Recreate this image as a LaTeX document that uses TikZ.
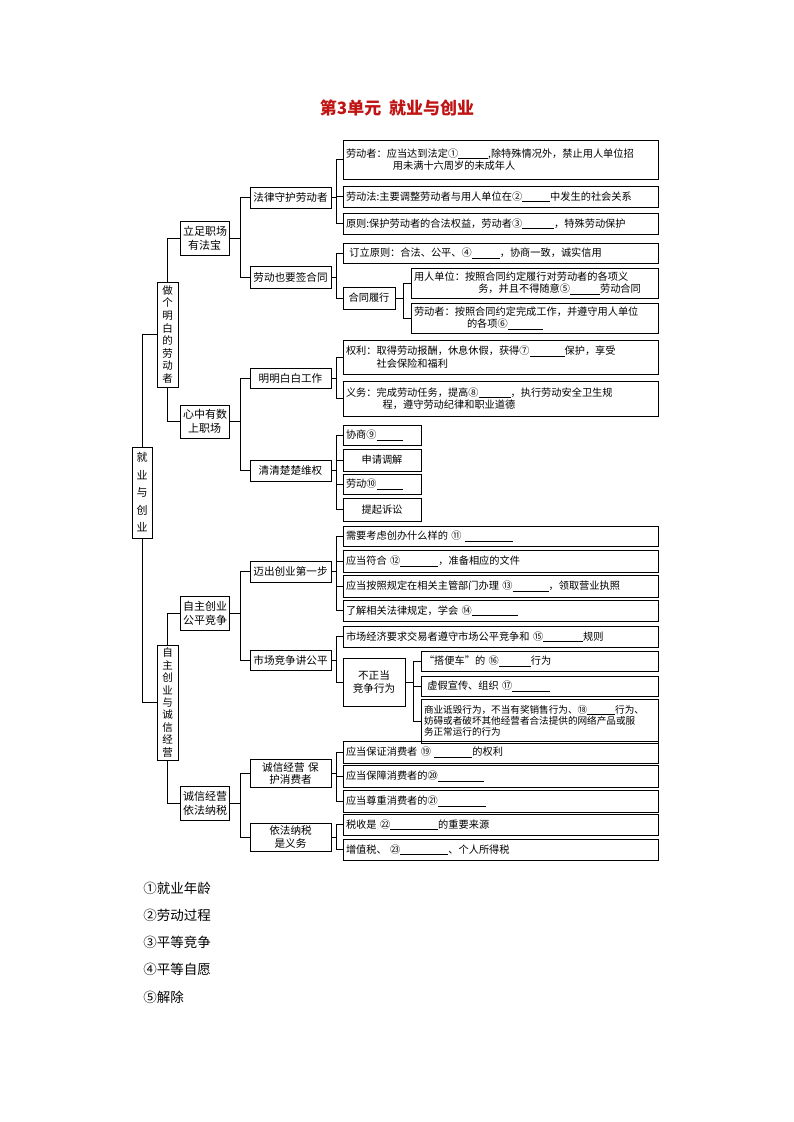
\documentclass[tikz,border=0pt]{standalone}
\usepackage{fontspec}
\setmainfont{Noto Sans CJK SC}
\newfontfamily\cjk{Noto Sans CJK SC}
\definecolor{titlered}{RGB}{192,20,20}
\newcommand\blk[1]{\rule[-1.5pt]{#1}{0.5pt}}
\newcommand\bx[7][]{%
  \pgfmathsetmacro\bw{#5-#3}\pgfmathsetmacro\bh{#6-#4}\pgfmathsetmacro\tw{#5-#3-6}%
  \node[box,minimum width=\bw pt,minimum height=\bh pt,text width=\tw pt,#1] (#2) at ({(#3+#5)/2},{(#4+#6)/2}) {#7};}
\newcommand\conn[3]{\foreach \c in {#3}{\draw (#1.east) -- (#1.east -| #2) |- (\c.west);}}
\begin{document}
\begin{tikzpicture}[x=1pt,y=-1pt,
  box/.style={draw,line width=0.6pt,inner sep=3pt,align=left,font=\fontsize{10.2}{12.2}\selectfont},
  cbox/.style={align=center},
  mid/.style={font=\fontsize{10.6}{12.6}\selectfont},
  vbox/.style={align=center,font=\fontsize{11}{14}\selectfont},
  every path/.style={line width=0.6pt}]
\useasboundingbox (0,0) rectangle (793,1122);
\node[font=\bfseries\fontsize{17}{19}\selectfont,text=titlered] (title) at (397,108) {第3单元\ \ 就业与创业};
% level 0/1
\bx[vbox,inner sep=0pt,font=\fontsize{11}{17.5}\selectfont]{root}{132}{447}{152}{538}{就\\业\\与\\创\\业}
\bx[vbox,inner sep=0pt,font=\fontsize{10.5}{12.6}\selectfont]{zuoge}{157}{282}{178}{387}{做\\个\\明\\白\\的\\劳\\动\\者}
\bx[vbox,inner sep=0pt,font=\fontsize{10.5}{12.4}\selectfont]{zizhu}{157}{645}{178}{760}{自\\主\\创\\业\\与\\诚\\信\\经\\营}
% level 2
\bx[cbox,font=\fontsize{11}{14}\selectfont]{lizu}{180}{221}{229}{255}{立足职场\\有法宝}
\bx[cbox,font=\fontsize{11}{14}\selectfont]{xinz}{180}{405}{229}{438}{心中有数\\上职场}
\bx[cbox,font=\fontsize{11}{14}\selectfont]{zzcy}{180}{596}{229}{630}{自主创业\\公平竞争}
\bx[cbox,font=\fontsize{11}{14}\selectfont]{cxjy}{180}{786}{229}{820}{诚信经营\\依法纳税}
% level 3
\bx[cbox,mid]{fl}{250}{187}{331}{208}{法律守护劳动者}
\bx[cbox,mid]{ld}{250}{266}{331}{288}{劳动也要签合同}
\bx[cbox,mid]{mm}{250}{368}{331}{388}{明明白白工作}
\bx[cbox,mid]{qq}{250}{460}{331}{481}{清清楚楚维权}
\bx[cbox,mid]{mc}{250}{561}{331}{582}{迈出创业第一步}
\bx[cbox,mid]{sc}{250}{650}{331}{670}{市场竞争讲公平}
\bx[cbox,mid]{cx}{250}{760}{331}{787}{诚信经营 保\\护消费者}
\bx[cbox,mid]{yf}{250}{823}{331}{851}{依法纳税\\是义务}
% leaves
\bx{a1}{343}{140}{658}{179}{劳动者：应当达到法定①\blk{30pt},除特殊情况外，禁止用人单位招\\\hspace*{4.6em}用未满十六周岁的未成年人}
\bx{a2}{343}{186}{658}{207}{劳动法:主要调整劳动者与用人单位在②\blk{28pt}中发生的社会关系}
\bx{a3}{343}{213}{658}{234}{原则:保护劳动者的合法权益，劳动者③\blk{32pt}，特殊劳动保护}
\bx{b1}{343}{243}{658}{263}{\ 订立原则：合法、公平、④\blk{28pt}，协商一致，诚实信用}
\bx[cbox]{b2}{343}{287}{395}{309}{合同履行}
\bx{c1}{411}{268}{658}{298}{用人单位：按照合同约定履行对劳动者的各项义\\\hspace*{6.3em}务，并且不得随意⑤\blk{30pt}劳动合同}
\bx{c2}{411}{303}{658}{333}{劳动者：按照合同约定完成工作，并遵守用人单位\\\hspace*{5.2em}的各项⑥\blk{35pt}}
\bx{d1}{343}{340}{658}{374}{权利：取得劳动报酬，休息休假，获得⑦\blk{35pt}保护，享受\\\hspace*{3em}社会保险和福利}
\bx{d2}{343}{381}{658}{416}{义务：完成劳动任务，提高⑧\blk{32pt}，执行劳动安全卫生规\\\hspace*{3.6em}程，遵守劳动纪律和职业道德}
\bx{e1}{343}{425}{421}{445}{协商⑨\blk{26pt}}
\bx[cbox]{e2}{343}{449}{421}{471}{申请调解}
\bx{e3}{343}{474}{421}{494}{劳动⑩\blk{26pt}}
\bx[cbox]{e4}{343}{498}{421}{521}{提起诉讼}
\bx{f1}{343}{526}{658}{546}{需要考虑创办什么样的 ⑪ \blk{48pt}}
\bx{f2}{343}{550}{658}{572}{应当符合 ⑫\blk{38pt}，准备相应的文件}
\bx{f3}{343}{575}{658}{597}{应当按照规定在相关主管部门办理 ⑬\blk{36pt}，领取营业执照}
\bx{f4}{343}{600}{658}{621}{了解相关法律规定，学会 ⑭\blk{46pt}}
\bx{g1}{343}{626}{658}{647}{市场经济要求交易者遵守市场公平竞争和 ⑮\blk{40pt}规则}
\bx[cbox,mid]{g2}{343}{658}{405}{706}{不正当\\竞争行为}
\bx{h1}{421}{651}{658}{671}{“搭便车”的 ⑯\blk{32pt}行为}
\bx{h2}{421}{676}{658}{696}{\ 虚假宣传、组织 ⑰\blk{38pt}}
\bx[font=\fontsize{9.6}{11.2}\selectfont]{h3}{421}{699}{658}{743}{商业诋毁行为，不当有奖销售行为、⑱\blk{28pt}行为、\\妨碍或者破坏其他经营者合法提供的网络产品或服\\务正常运行的行为}
\bx{i1}{343}{741}{658}{763}{应当保证消费者 ⑲ \blk{38pt}的权利}
\bx{i2}{343}{765}{658}{787}{应当保障消费者的⑳\blk{46pt}}
\bx{i3}{343}{790}{658}{812}{应当尊重消费者的㉑\blk{48pt}}
\bx{j1}{343}{814}{658}{835}{税收是 ㉒\blk{48pt}的重要来源}
\bx{j2}{343}{839}{658}{860}{增值税、 ㉓\blk{48pt}、个人所得税}
% junction coordinates
\coordinate (J2) at (240,0);
\coordinate (J3) at (336,0);
\coordinate (J4) at (403,0);
\coordinate (J5) at (413,0);
% connectors
\draw (root.north) |- (zuoge.west);
\draw (root.south) |- (zizhu.west);
\draw (zuoge.north) |- (lizu.west);
\draw (zuoge.south) |- (xinz.west);
\draw (zizhu.north) |- (zzcy.west);
\draw (zizhu.south) |- (cxjy.west);
\conn{lizu}{J2}{fl,ld}
\conn{xinz}{J2}{mm,qq}
\conn{zzcy}{J2}{mc,sc}
\conn{cxjy}{J2}{cx,yf}
\conn{fl}{J3}{a1,a2,a3}
\conn{ld}{J3}{b1,b2}
\conn{b2}{J4}{c1,c2}
\conn{mm}{J3}{d1,d2}
\conn{qq}{J3}{e1,e2,e3,e4}
\conn{mc}{J3}{f1,f2,f3,f4}
\conn{sc}{J3}{g1,g2}
\conn{g2}{J5}{h1,h2,h3}
\conn{cx}{J3}{i1,i2,i3}
\conn{yf}{J3}{j1,j2}
% answers
\begin{scope}[every node/.style={anchor=west,font=\fontsize{13.5}{15}\selectfont,inner sep=0pt}]
\node (k1) at (143,888) {①就业年龄};
\node (k2) at (143,915) {②劳动过程};
\node (k3) at (143,942) {③平等竞争};
\node (k4) at (143,969) {④平等自愿};
\node (k5) at (143,997) {⑤解除};
\end{scope}
\end{tikzpicture}
\end{document}
